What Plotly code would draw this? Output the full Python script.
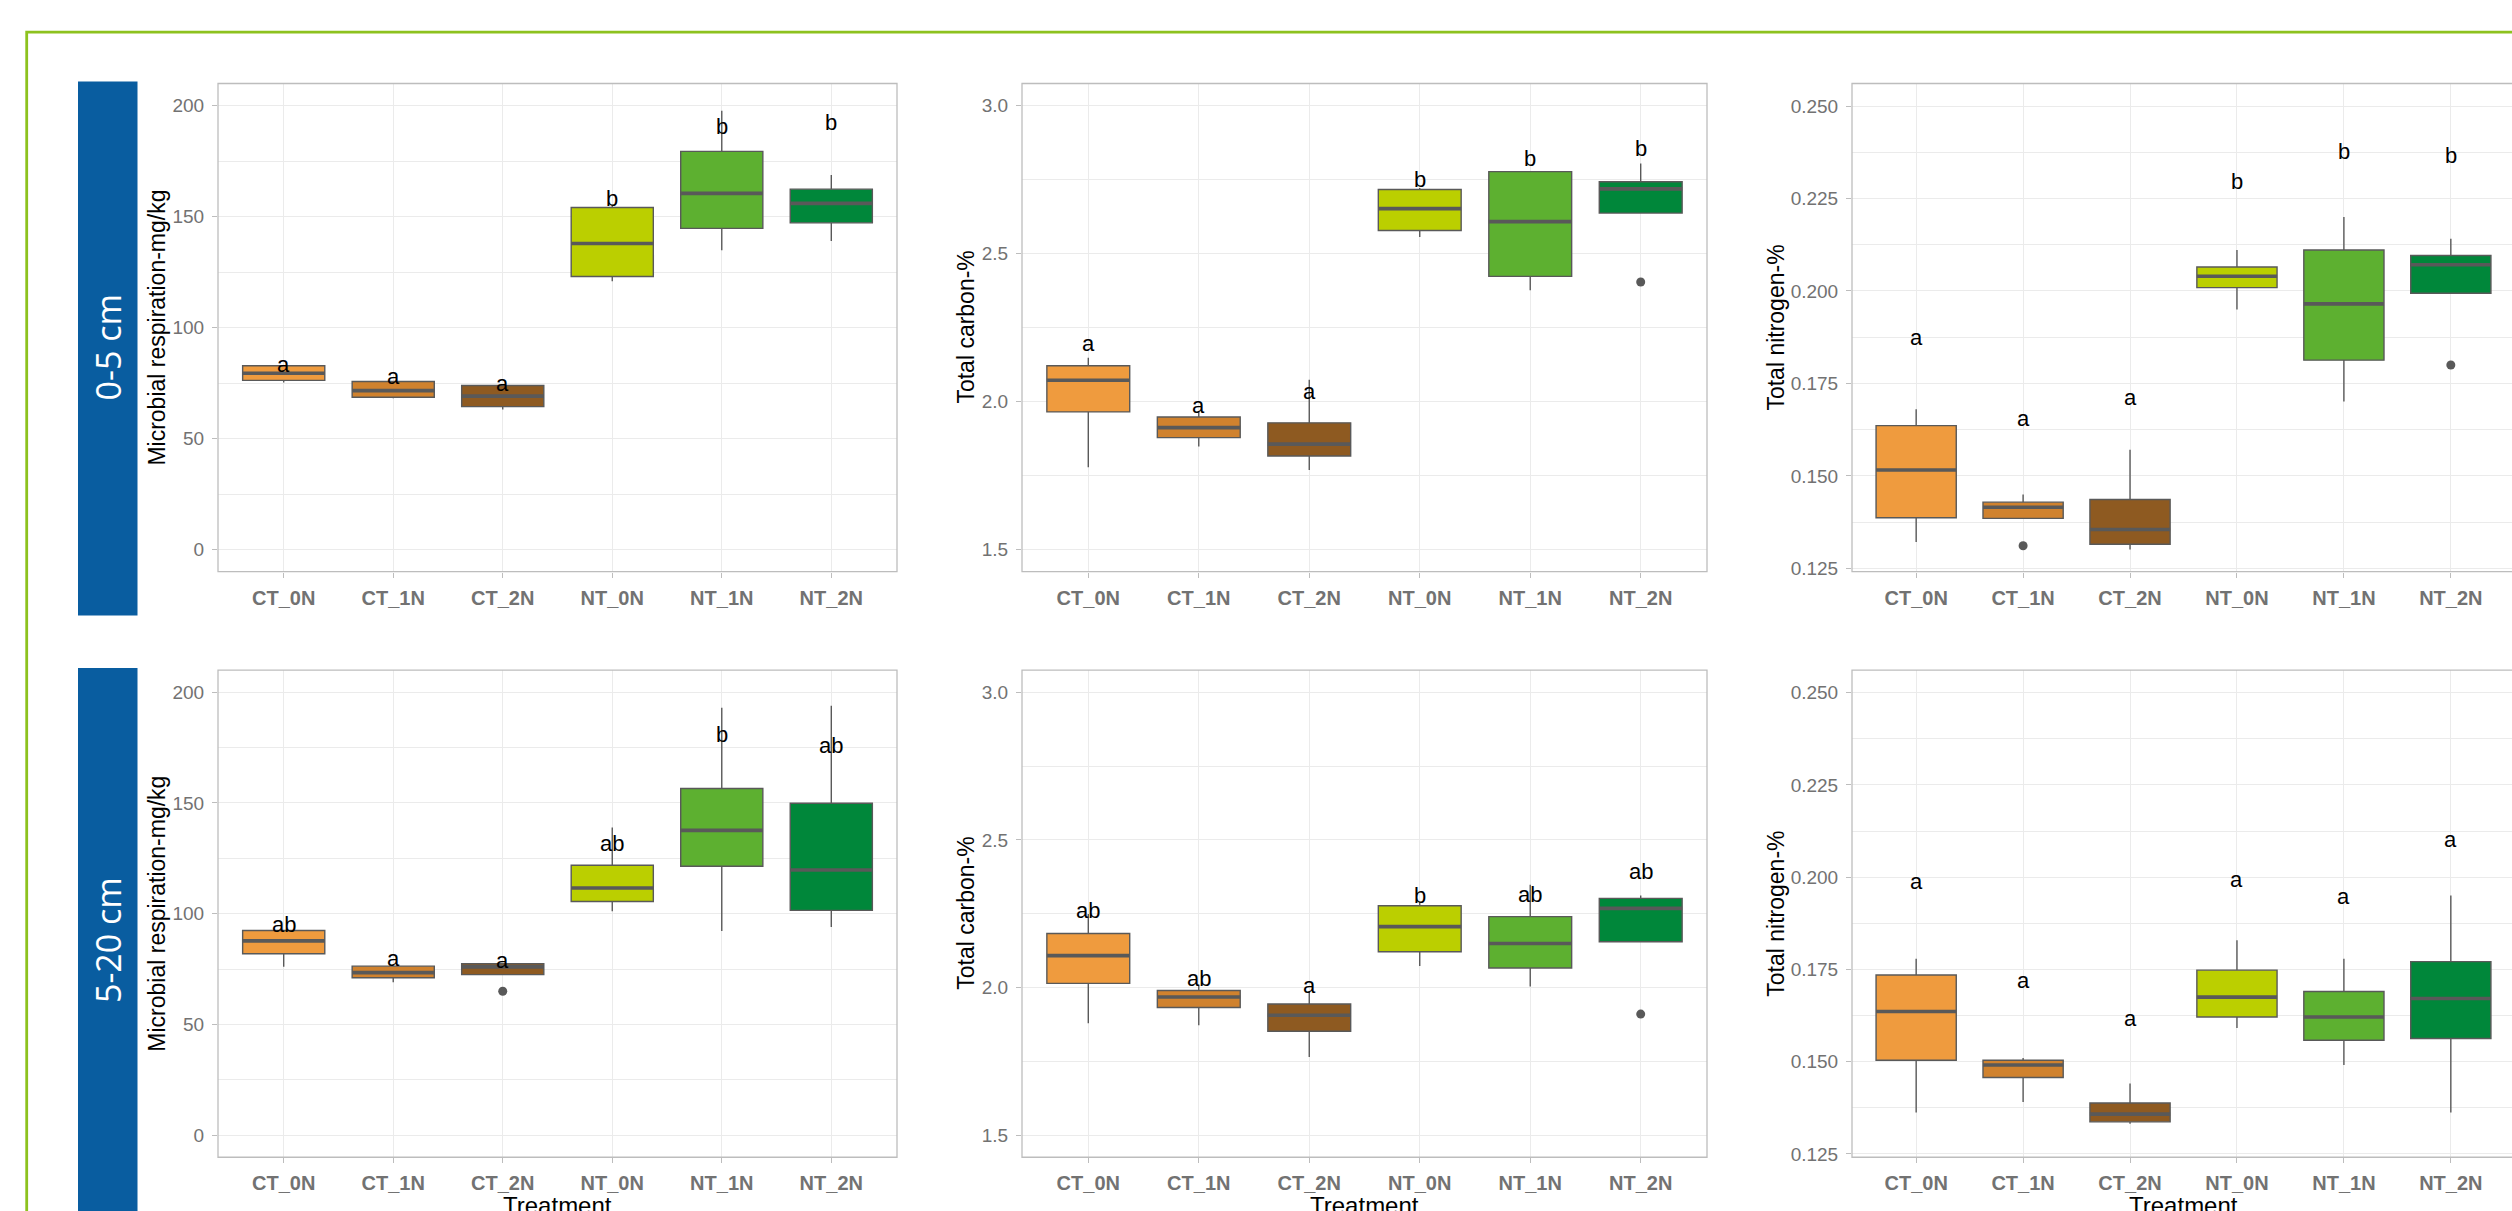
import plotly.graph_objects as go

W, H = 2512, 1211

categories = ["CT_0N", "CT_1N", "CT_2N", "NT_0N", "NT_1N", "NT_2N"]
box_colors = ["#EF9B3E", "#D0822E", "#8E5A21", "#BBCF00", "#5DB030", "#00873A"]
depth_labels = ["0-5 cm", "5-20 cm"]
y_titles = ["Microbial respiration-mg/kg", "Total carbon-%", "Total nitrogen-%"]
x_title = "Treatment"

# ---- Microbial respiration, 0-5 cm
resp05_lower = [75.2, 68.1, 63.1, 120.9, 134.9, 139.0]
resp05_q1 = [76.2, 68.6, 64.4, 123.0, 144.7, 147.2]
resp05_median = [79.4, 71.6, 69.1, 137.9, 160.5, 156.0]
resp05_q3 = [82.8, 75.7, 73.9, 154.1, 179.4, 162.4]
resp05_upper = [82.8, 75.7, 73.9, 155.0, 197.7, 168.8]
resp05_outliers = [[], [], [], [], [], []]
resp05_letters = ["a", "a", "a", "b", "b", "b"]
resp05_letter_y = [83.2, 77.8, 74.8, 158.2, 190.8, 192.6]

# ---- Total carbon, 0-5 cm
carb05_lower = [1.778, 1.848, 1.769, 2.556, 2.376, 2.637]
carb05_q1 = [1.965, 1.878, 1.816, 2.578, 2.423, 2.637]
carb05_median = [2.072, 1.912, 1.856, 2.652, 2.608, 2.719]
carb05_q3 = [2.121, 1.948, 1.928, 2.717, 2.777, 2.743]
carb05_upper = [2.148, 1.968, 2.074, 2.722, 2.777, 2.805]
carb05_outliers = [[], [], [], [], [], [2.404]]
carb05_letters = ["a", "a", "a", "b", "b", "b"]
carb05_letter_y = [2.197, 1.988, 2.035, 2.749, 2.823, 2.855]

# ---- Total nitrogen, 0-5 cm
nitr05_lower = [0.1321, 0.1385, 0.1301, 0.1950, 0.1701, 0.1994]
nitr05_q1 = [0.1387, 0.1385, 0.1315, 0.2009, 0.1813, 0.1994]
nitr05_median = [0.1516, 0.1415, 0.1355, 0.2040, 0.1965, 0.2071]
nitr05_q3 = [0.1636, 0.1429, 0.1436, 0.2065, 0.2111, 0.2096]
nitr05_upper = [0.1680, 0.1450, 0.1571, 0.2111, 0.2200, 0.2141]
nitr05_outliers = [[], [0.1311], [], [], [], [0.1800]]
nitr05_letters = ["a", "a", "a", "b", "b", "b"]
nitr05_letter_y = [0.1874, 0.1654, 0.1712, 0.2297, 0.2378, 0.2366]

# ---- Microbial respiration, 5-20 cm
resp520_lower = [76.0, 69.0, 72.5, 101.1, 92.2, 94.0]
resp520_q1 = [81.9, 71.1, 72.5, 105.5, 121.4, 101.5]
resp520_median = [87.7, 73.4, 76.0, 111.6, 137.6, 119.7]
resp520_q3 = [92.4, 76.3, 77.4, 121.9, 156.5, 149.9]
resp520_upper = [92.4, 76.3, 77.4, 138.9, 193.0, 193.9]
resp520_outliers = [[], [], [65.0], [], [], []]
resp520_letters = ["ab", "a", "a", "ab", "b", "ab"]
resp520_letter_y = [95.0, 79.8, 79.0, 131.9, 181.1, 176.1]

# ---- Total carbon, 5-20 cm
carb520_lower = [1.879, 1.872, 1.765, 2.073, 2.003, 2.155]
carb520_q1 = [2.014, 1.932, 1.852, 2.121, 2.066, 2.155]
carb520_median = [2.108, 1.968, 1.906, 2.206, 2.149, 2.268]
carb520_q3 = [2.183, 1.990, 1.944, 2.277, 2.240, 2.302]
carb520_upper = [2.249, 2.007, 1.987, 2.289, 2.348, 2.312]
carb520_outliers = [[], [], [], [], [], [1.910]]
carb520_letters = ["ab", "ab", "a", "b", "ab", "ab"]
carb520_letter_y = [2.262, 2.031, 2.006, 2.312, 2.315, 2.393]

# ---- Total nitrogen, 5-20 cm
nitr520_lower = [0.1362, 0.1391, 0.1332, 0.1591, 0.1491, 0.1362]
nitr520_q1 = [0.1504, 0.1457, 0.1337, 0.1621, 0.1558, 0.1563]
nitr520_median = [0.1636, 0.1491, 0.1358, 0.1675, 0.1621, 0.1671]
nitr520_q3 = [0.1735, 0.1504, 0.1388, 0.1748, 0.1690, 0.1771]
nitr520_upper = [0.1779, 0.1510, 0.1441, 0.1829, 0.1779, 0.1950]
nitr520_outliers = [[], [], [], [], [], []]
nitr520_letters = ["a", "a", "a", "a", "a", "a"]
nitr520_letter_y = [0.1989, 0.1721, 0.1617, 0.1994, 0.1947, 0.2101]

# y-axis tick definitions per variable
resp_ticks = [0, 50, 100, 150, 200]
resp_ticktext = ["0", "50", "100", "150", "200"]
carb_ticks = [1.5, 2.0, 2.5, 3.0]
carb_ticktext = ["1.5", "2.0", "2.5", "3.0"]
nitr_ticks = [0.125, 0.150, 0.175, 0.200, 0.225, 0.250]
nitr_ticktext = ["0.125", "0.150", "0.175", "0.200", "0.225", "0.250"]

panels = [
    dict(row=0, col=0, lo=resp05_lower, q1=resp05_q1, md=resp05_median, q3=resp05_q3, hi=resp05_upper,
         out=resp05_outliers, let=resp05_letters, ly=resp05_letter_y),
    dict(row=0, col=1, lo=carb05_lower, q1=carb05_q1, md=carb05_median, q3=carb05_q3, hi=carb05_upper,
         out=carb05_outliers, let=carb05_letters, ly=carb05_letter_y),
    dict(row=0, col=2, lo=nitr05_lower, q1=nitr05_q1, md=nitr05_median, q3=nitr05_q3, hi=nitr05_upper,
         out=nitr05_outliers, let=nitr05_letters, ly=nitr05_letter_y),
    dict(row=1, col=0, lo=resp520_lower, q1=resp520_q1, md=resp520_median, q3=resp520_q3, hi=resp520_upper,
         out=resp520_outliers, let=resp520_letters, ly=resp520_letter_y),
    dict(row=1, col=1, lo=carb520_lower, q1=carb520_q1, md=carb520_median, q3=carb520_q3, hi=carb520_upper,
         out=carb520_outliers, let=carb520_letters, ly=carb520_letter_y),
    dict(row=1, col=2, lo=nitr520_lower, q1=nitr520_q1, md=nitr520_median, q3=nitr520_q3, hi=nitr520_upper,
         out=nitr520_outliers, let=nitr520_letters, ly=nitr520_letter_y),
]

yspec = [
    dict(range=[-10, 210], tickvals=resp_ticks, ticktext=resp_ticktext, minor=25, tick0=0),
    dict(range=[1.425, 3.075], tickvals=carb_ticks, ticktext=carb_ticktext, minor=0.25, tick0=1.5),
    dict(range=[0.1241, 0.2561], tickvals=nitr_ticks, ticktext=nitr_ticktext, minor=0.0125, tick0=0.125),
]

# layout geometry in pixels
col_x = [(218, 897), (1022, 1707), (1852, 2512)]
col_xrange = [(-0.6, 5.6), (-0.6, 5.6), (-0.6, 5.572)]
row_y = [(84, 575), (674, 1164)]
ytitle_offset = [61, 56, 76]


def px(x):
    return x / W


def py(y):
    return 1 - y / H


BOX_W = 0.75
LINE_C = "#595959"
GRID_C = "#EBEBEB"
BORDER_C = "#BDBDBD"
TICKFONT_C = "#727272"

fig = go.Figure()
layout = dict(
    width=W, height=H, margin=dict(l=0, r=0, t=0, b=0),
    paper_bgcolor="white", plot_bgcolor="white", showlegend=False,
    font=dict(family="Liberation Sans, Arial, sans-serif"),
)
annotations = []
shapes = []

# green frame and blue depth bars
shapes.append(dict(type="rect", xref="paper", yref="paper", x0=px(26.7), x1=px(2540), y0=py(32.3), y1=py(1240),
                   line=dict(color="#8DC21F", width=2.8), fillcolor="rgba(0,0,0,0)", layer="below"))
bar_y = [(82, 619), (672, 1230)]
bar_text_y = [350, 946]
for r in range(2):
    shapes.append(dict(type="rect", xref="paper", yref="paper", x0=px(78), x1=px(137.5),
                       y0=py(bar_y[r][0]), y1=py(bar_y[r][1]), line=dict(width=0),
                       fillcolor="#095DA0", layer="below"))
    annotations.append(dict(text=depth_labels[r], xref="paper", yref="paper", x=px(107.5), y=py(bar_text_y[r]),
                            showarrow=False, textangle=-90, xanchor="center", yanchor="middle",
                            font=dict(family="Open Sans, Noto Sans, sans-serif", size=34, color="white")))

for i, p in enumerate(panels):
    n = i + 1
    r, c = p["row"], p["col"]
    xa = "x" if n == 1 else f"x{n}"
    ya = "y" if n == 1 else f"y{n}"
    ys = yspec[c]
    x0p, x1p = col_x[c]
    y0p, y1p = row_y[r]

    for k, cat in enumerate(categories):
        fig.add_trace(go.Box(
            x=[k], q1=[p["q1"][k]], median=[p["md"][k]], q3=[p["q3"][k]],
            lowerfence=[p["lo"][k]], upperfence=[p["hi"][k]],
            width=BOX_W, whiskerwidth=0, fillcolor=box_colors[k],
            line=dict(color=LINE_C, width=1.4), boxpoints=False,
            xaxis=xa, yaxis=ya, name=cat, hoverinfo="skip",
        ))
        # thick median segment (ggplot style)
        fig.add_trace(go.Scatter(
            x=[k - BOX_W / 2, k + BOX_W / 2], y=[p["md"][k], p["md"][k]], mode="lines",
            line=dict(color=LINE_C, width=3.6), xaxis=xa, yaxis=ya, hoverinfo="skip",
        ))
        if p["out"][k]:
            fig.add_trace(go.Scatter(
                x=[k] * len(p["out"][k]), y=p["out"][k], mode="markers",
                marker=dict(color=LINE_C, size=9), xaxis=xa, yaxis=ya, hoverinfo="skip",
            ))
        annotations.append(dict(text=p["let"][k], x=k, y=p["ly"][k], xref=xa, yref=ya, showarrow=False,
                                xanchor="center", yanchor="middle",
                                font=dict(family="Liberation Sans, Arial, sans-serif", size=22, color="black")))

    layout["xaxis" if n == 1 else f"xaxis{n}"] = dict(
        domain=[px(x0p), px(x1p)], anchor=ya, range=list(col_xrange[c]),
        tickvals=list(range(len(categories))), ticktext=categories,
        showgrid=True, gridcolor=GRID_C, gridwidth=1, zeroline=False, showline=False,
        ticks="outside", ticklen=5, tickcolor=BORDER_C, tickwidth=1,
        tickfont=dict(family="Liberation Sans, Arial, sans-serif", size=20, color=TICKFONT_C, weight="bold"),
        ticklabelstandoff=3, fixedrange=True,
    )
    layout["yaxis" if n == 1 else f"yaxis{n}"] = dict(
        domain=[py(y1p), py(y0p)], anchor=xa, range=ys["range"],
        tickvals=ys["tickvals"], ticktext=ys["ticktext"],
        showgrid=True, gridcolor=GRID_C, gridwidth=1, zeroline=False, showline=False,
        minor=dict(dtick=ys["minor"], tick0=ys["tick0"], showgrid=True, gridcolor=GRID_C, gridwidth=1, ticks=""),
        ticks="outside", ticklen=5, tickcolor=BORDER_C, tickwidth=1,
        tickfont=dict(family="Liberation Sans, Arial, sans-serif", size=19, color=TICKFONT_C),
        ticklabelstandoff=4, fixedrange=True,
    )
    # panel border
    shapes.append(dict(type="rect", xref="paper", yref="paper", x0=px(x0p), x1=px(x1p if c < 2 else 2516),
                       y0=py(y1p), y1=py(y0p), line=dict(color=BORDER_C, width=1.3),
                       fillcolor="rgba(0,0,0,0)", layer="above"))
    # y-axis title
    annotations.append(dict(text=y_titles[c], xref="paper", yref="paper", x=px(x0p - ytitle_offset[c]),
                            y=py((y0p + y1p) / 2), showarrow=False, textangle=-90,
                            xanchor="center", yanchor="middle",
                            font=dict(family="Liberation Sans, Arial, sans-serif", size=23, color="black")))
    if r == 1:
        annotations.append(dict(text=x_title, xref="paper", yref="paper", x=px((x0p + (x1p if c < 2 else 2515)) / 2),
                                y=py(1197), showarrow=False, xanchor="center", yanchor="top",
                                font=dict(family="Liberation Sans, Arial, sans-serif", size=24, color="black")))

layout["annotations"] = annotations
layout["shapes"] = shapes
fig.update_layout(**layout)

fig.write_html("out.html", config={"displayModeBar": False},
               post_script="document.body.style.margin='0';document.body.style.overflow='hidden';")
